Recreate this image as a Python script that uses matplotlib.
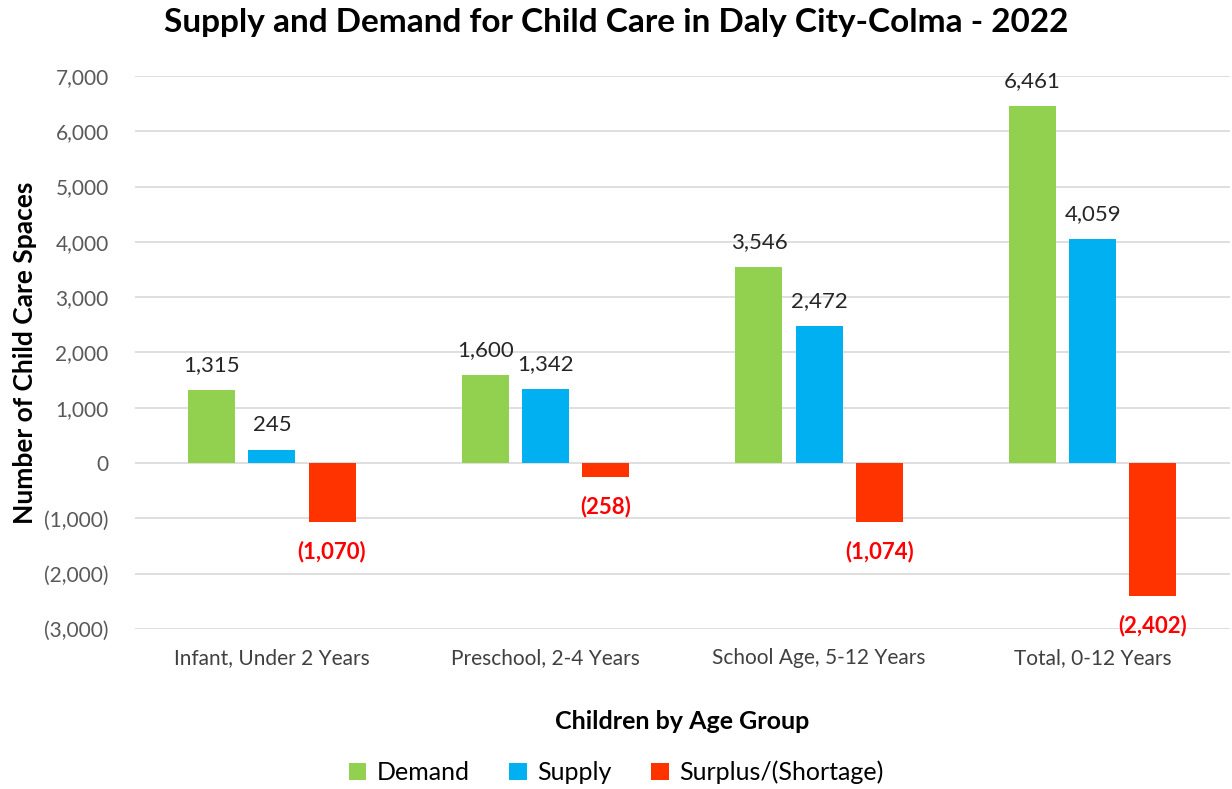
import numpy as np
import matplotlib.pyplot as plt
from matplotlib.ticker import FuncFormatter

plt.rcParams['font.family'] = ['Lato', 'DejaVu Sans']

categories = ["Infant, Under 2 Years", "Preschool, 2-4 Years",
              "School Age, 5-12 Years", "Total, 0-12 Years"]
demand = [1315, 1600, 3546, 6461]
supply = [245, 1342, 2472, 4059]
surplus = [-1070, -258, -1074, -2402]

c_demand = "#92D050"
c_supply = "#00B0F0"
c_surplus = "#FF3300"

fig = plt.figure(figsize=(12.32, 7.89), dpi=100)
ax = fig.add_axes([0.1096, 0.2028, 0.8884, 0.7009])

x = np.arange(len(categories))
w = 0.172
off = 0.22
b1 = ax.bar(x - off, demand, w, color=c_demand, label="Demand", zorder=3)
b2 = ax.bar(x, supply, w, color=c_supply, label="Supply", zorder=3)
b3 = ax.bar(x + off, surplus, w, color=c_surplus, label="Surplus/(Shortage)", zorder=3)

for bars, vals in ((b1, demand), (b2, supply)):
    for r, v in zip(bars, vals):
        ax.annotate(f"{v:,}", (r.get_x() + r.get_width() / 2, v),
                    xytext=(0, 18), textcoords="offset points",
                    ha="center", va="center", fontsize=16, color="#262626")
for r, v in zip(b3, surplus):
    ax.annotate(f"({abs(v):,})", (r.get_x() + r.get_width() / 2, v),
                xytext=(0, -21), textcoords="offset points",
                ha="center", va="center", fontsize=16, color="#FF0000",
                fontweight="bold")

ax.set_xlim(-0.5, 3.5)
ax.set_ylim(-3000, 7000)
ax.set_yticks(range(-3000, 7001, 1000))
ax.yaxis.set_major_formatter(FuncFormatter(
    lambda v, p: "0" if v == 0 else (f"({abs(int(v)):,})" if v < 0 else f"{int(v):,}")))
ax.set_xticks(x)
ax.set_xticklabels(categories)
ax.tick_params(axis="y", length=0, labelsize=15, labelcolor="#595959", pad=19)
ax.tick_params(axis="x", length=0, labelsize=15, labelcolor="#404040", pad=14)
ax.grid(axis="y", color="#D9D9D9", linewidth=1.2, zorder=0)
for s in ax.spines.values():
    s.set_visible(False)

ax.set_ylabel("Number of Child Care Spaces", fontsize=19, fontweight="bold", labelpad=5)
ax.set_xlabel("Children by Age Group", fontsize=18, fontweight="bold", labelpad=30)
fig.suptitle("Supply and Demand for Child Care in Daly City-Colma - 2022",
             fontsize=24, fontweight="bold", x=0.5, y=0.99)

fig.legend(loc="center", bbox_to_anchor=(0.5, 0.021), ncol=3, frameon=False,
           fontsize=18, handlelength=0.7, handleheight=0.7, columnspacing=1.6,
           handletextpad=0.4)

fig.savefig("out.png", dpi=100)
